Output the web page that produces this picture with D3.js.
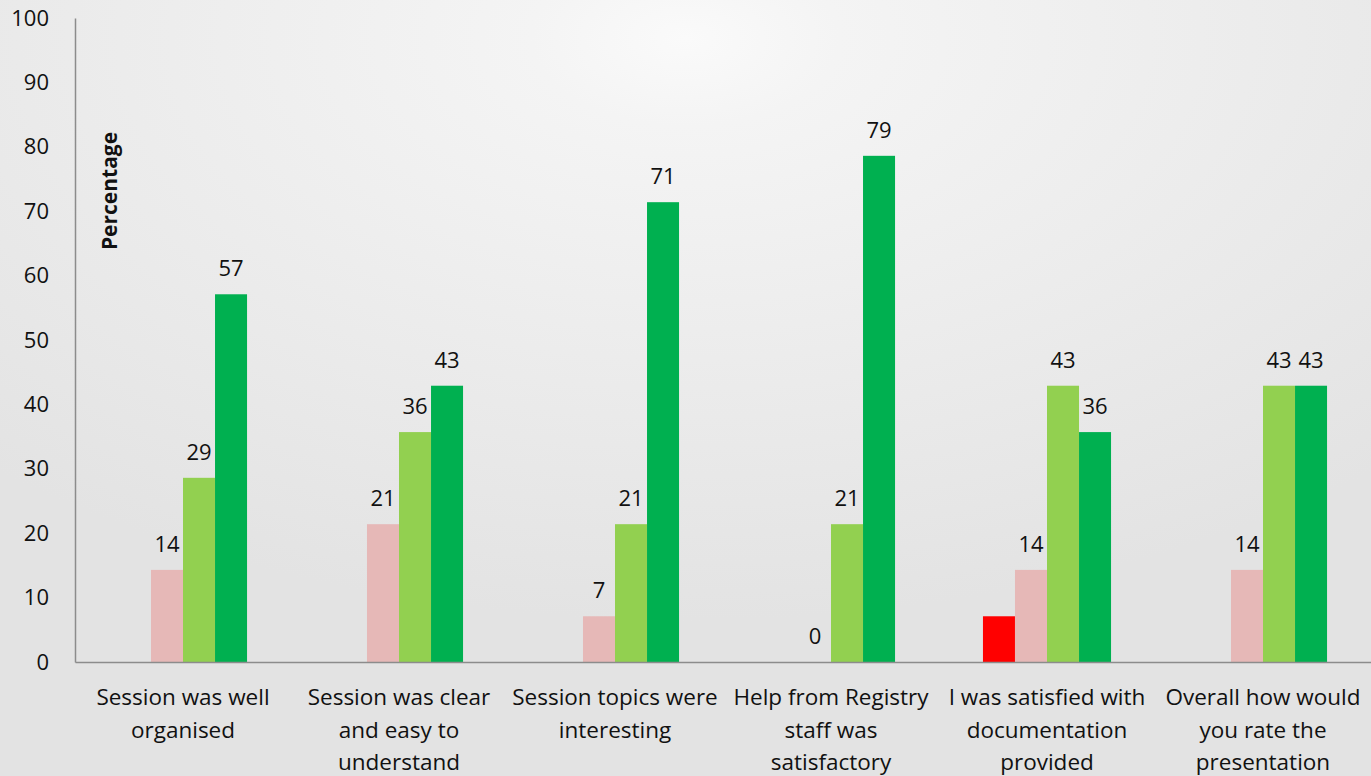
<!DOCTYPE html>
<html>
<head>
<meta charset="utf-8">
<script src="https://cdn.jsdelivr.net/npm/d3@7"></script>
<style>
  html, body { margin: 0; padding: 0; }
  body { width: 1371px; height: 776px; overflow: hidden; }
  svg text { font-family: "Open Sans", "Noto Sans", sans-serif; fill: #111; }
</style>
</head>
<body>
<div id="chart"></div>
<script>
// questions on the x axis
const categories = [
  'Session was well organised',
  'Session was clear and easy to understand',
  'Session topics were interesting',
  'Help from Registry staff was satisfactory',
  'I was satisfied with documentation provided',
  'Overall how would you rate the presentation'
];
// label lines as drawn under each group
const categoryLines = [
  ['Session was well', 'organised'],
  ['Session was clear', 'and easy to', 'understand'],
  ['Session topics were', 'interesting'],
  ['Help from Registry', 'staff was', 'satisfactory'],
  ['I was satisfied with', 'documentation', 'provided'],
  ['Overall how would', 'you rate the', 'presentation']
];
const seriesNames = ['Poor', 'Fair', 'Good', 'Excellent'];
const poorValues = [null, null, null, null, 7.1, null];
const fairValues = [14.3, 21.4, 7.1, 0, 14.3, 14.3];
const goodValues = [28.6, 35.7, 21.4, 21.4, 42.9, 42.9];
const excellentValues = [57.1, 42.9, 71.4, 78.6, 35.7, 42.9];
const seriesColors = ['#ff0000', '#e6b8b7', '#92d050', '#00b050'];
const showLabels = [false, true, true, true];
const yTicks = [0, 10, 20, 30, 40, 50, 60, 70, 80, 90, 100];

const width = 1371, height = 776;
const margin = {top: 18, right: 0, bottom: 114, left: 75};

const allSeries = [poorValues, fairValues, goodValues, excellentValues];

const svg = d3.select('#chart').append('svg')
    .attr('width', width)
    .attr('height', height);

// soft grey background with a lighter spot near the top
const defs = svg.append('defs');
const grad = defs.append('radialGradient')
    .attr('id', 'bg')
    .attr('cx', '50%').attr('cy', '5%').attr('r', '75%');
grad.append('stop').attr('offset', '0%').attr('stop-color', '#fafafa');
grad.append('stop').attr('offset', '15%').attr('stop-color', '#f4f4f4');
grad.append('stop').attr('offset', '100%').attr('stop-color', '#e3e3e3');
svg.append('rect')
    .attr('width', width).attr('height', height)
    .attr('fill', 'url(#bg)');

const x0 = d3.scaleBand()
    .domain(categories)
    .range([margin.left, width - margin.right])
    .paddingInner(0.407)
    .paddingOuter(0.2035);
const x1 = d3.scaleBand()
    .domain(seriesNames)
    .range([0, x0.bandwidth()]);
const y = d3.scaleLinear()
    .domain([0, 100])
    .range([height - margin.bottom, margin.top]);

// bars
const groups = svg.append('g').selectAll('g')
    .data(categories)
    .join('g')
      .attr('transform', d => 'translate(' + x0(d) + ',0)');

groups.selectAll('rect')
    .data((d, i) => seriesNames.map((s, j) => ({s: s, j: j, v: allSeries[j][i]})))
    .join('rect')
      .attr('x', d => x1(d.s))
      .attr('y', d => y(d.v || 0))
      .attr('width', x1.bandwidth())
      .attr('height', d => y(0) - y(d.v || 0))
      .attr('fill', d => seriesColors[d.j]);

groups.selectAll('text')
    .data((d, i) => seriesNames.map((s, j) => ({s: s, j: j, v: allSeries[j][i]}))
        .filter(d => showLabels[d.j] && d.v !== null))
    .join('text')
      .attr('x', d => x1(d.s) + x1.bandwidth() / 2)
      .attr('y', d => y(d.v) - 18)
      .attr('text-anchor', 'middle')
      .style('font-size', '22px')
      .text(d => d3.format('.0f')(d.v));

// y axis
const yAxis = svg.append('g')
    .attr('transform', 'translate(' + margin.left + ',0)')
    .call(d3.axisLeft(y).tickValues(yTicks).tickSize(0).tickPadding(26));
yAxis.select('.domain').attr('stroke', '#8c8c8c').attr('stroke-width', 1.5);
yAxis.selectAll('text')
    .style('font-size', '22px')
    .style('font-family', '"Open Sans", sans-serif')
    .attr('fill', '#111');

// x axis
const xAxis = svg.append('g')
    .attr('transform', 'translate(0,' + y(0) + ')')
    .call(d3.axisBottom(x0).tickSize(0).tickFormat(''));
xAxis.select('.domain').attr('stroke', '#8c8c8c').attr('stroke-width', 1.5);

svg.append('g').selectAll('text')
    .data(categories)
    .join('text')
      .attr('text-anchor', 'middle')
      .attr('x', d => x0(d) + x0.bandwidth() / 2)
      .attr('y', y(0) + 43)
      .style('font-size', '22.5px')
    .selectAll('tspan')
      .data((d, i) => categoryLines[i])
      .join('tspan')
        .attr('x', function() { return this.parentNode.getAttribute('x'); })
        .attr('dy', (d, i) => i === 0 ? 0 : 32.5)
        .text(d => d);

// y axis title
svg.append('text')
    .attr('transform', 'translate(117,' + 191 + ') rotate(-90)')
    .attr('text-anchor', 'middle')
    .style('font-size', '21px')
    .style('font-weight', 'bold')
    .text('Percentage');
</script>
</body>
</html>
